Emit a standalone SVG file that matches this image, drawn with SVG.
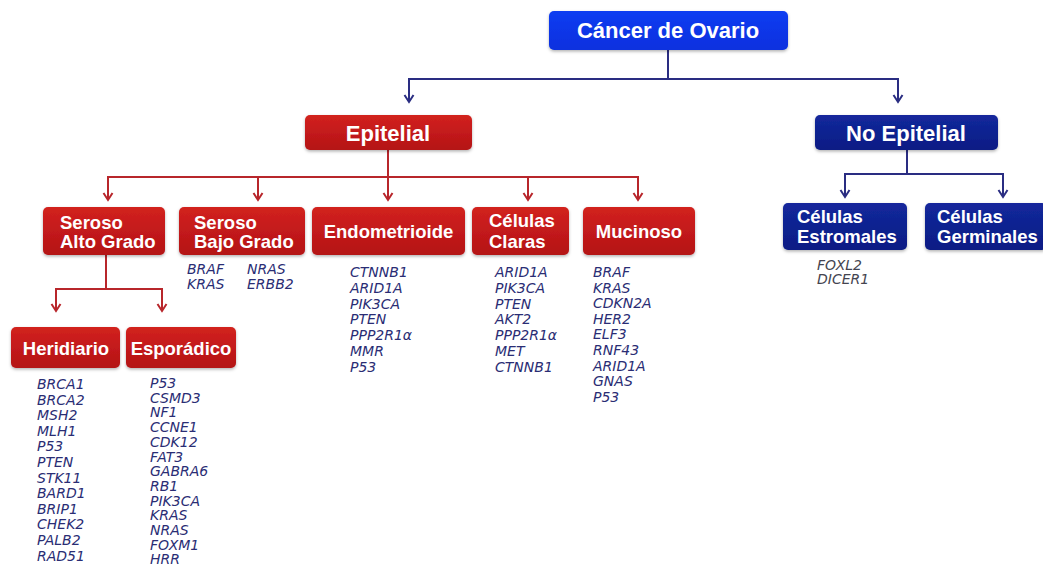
<svg xmlns="http://www.w3.org/2000/svg" width="1043" height="581" viewBox="0 0 1043 581">
<style>
.bt{font-family:"Liberation Sans",Arial,sans-serif;font-weight:bold;fill:#fff}
.t1{font-size:22px}
.t2{font-size:18.5px}
.g{font-family:"DejaVu Sans",Verdana,sans-serif;font-style:italic;font-size:14px;fill:#2a2d74}
.gg{fill:#444450}
.cb{fill:none;stroke:#2a2d82;stroke-width:2}
.cr{fill:none;stroke:#b8262b;stroke-width:2}
.red{fill:url(#gr)}
.navy{fill:url(#gn)}
</style>
<defs>
<linearGradient id="gr" x1="0" y1="0" x2="0" y2="1"><stop offset="0" stop-color="#d2221f"/><stop offset="1" stop-color="#b41216"/></linearGradient>
<linearGradient id="gn" x1="0" y1="0" x2="0" y2="1"><stop offset="0" stop-color="#13289c"/><stop offset="1" stop-color="#0b1c84"/></linearGradient>
<linearGradient id="gb" x1="0" y1="0" x2="0" y2="1"><stop offset="0" stop-color="#0e3df2"/><stop offset="1" stop-color="#0830de"/></linearGradient>
<filter id="sh" x="-10%" y="-20%" width="120%" height="150%"><feDropShadow dx="0" dy="1.5" stdDeviation="1.5" flood-color="#000" flood-opacity="0.3"/></filter>
<marker id="ab" viewBox="-9 -6 11 12" refX="0" refY="0" markerWidth="11" markerHeight="12" markerUnits="userSpaceOnUse" orient="auto"><path d="M-7,-4.5 L0,0 L-7,4.5" fill="none" stroke="#2a2d82" stroke-width="2"/></marker>
<marker id="ar" viewBox="-9 -6 11 12" refX="0" refY="0" markerWidth="11" markerHeight="12" markerUnits="userSpaceOnUse" orient="auto"><path d="M-7,-4.5 L0,0 L-7,4.5" fill="none" stroke="#b8262b" stroke-width="2"/></marker>
</defs>
<rect width="1043" height="581" fill="#fff"/>
<g id="connectors">
<path class="cb" d="M668,50 V79 H409 V102" marker-end="url(#ab)"/>
<path class="cb" d="M668,79 H898 V102" marker-end="url(#ab)"/>
<path class="cb" d="M907,150 V174 H845 V197" marker-end="url(#ab)"/>
<path class="cb" d="M907,174 H1003 V197" marker-end="url(#ab)"/>
<path class="cr" d="M388,150 V177 H108 V200" marker-end="url(#ar)"/>
<path class="cr" d="M258,177 V200" marker-end="url(#ar)"/>
<path class="cr" d="M388,177 V200" marker-end="url(#ar)"/>
<path class="cr" d="M388,177 H638 V200" marker-end="url(#ar)"/>
<path class="cr" d="M528,177 V200" marker-end="url(#ar)"/>
<path class="cr" d="M106,255 V289 H56 V311" marker-end="url(#ar)"/>
<path class="cr" d="M106,289 H162 V311" marker-end="url(#ar)"/>
</g>
<g id="n-cancer"><rect x="549" y="11" width="239" height="39" rx="5" fill="url(#gb)" filter="url(#sh)"/><text class="bt t1" x="668" y="37.5" text-anchor="middle">Cáncer de Ovario</text></g>
<g id="n-epitelial"><rect x="305" y="115" width="167" height="35" rx="5" class="red" filter="url(#sh)"/><text class="bt t1" x="388" y="140.5" text-anchor="middle">Epitelial</text></g>
<g id="n-noepitelial"><rect x="815" y="115" width="183" height="35" rx="5" class="navy" filter="url(#sh)"/><text class="bt t1" x="906" y="140.5" text-anchor="middle">No Epitelial</text></g>
<g id="n-seroso-alto"><rect x="43" y="207" width="122" height="48" rx="5" class="red" filter="url(#sh)"/><text class="bt t2" x="60" y="229">Seroso</text><text class="bt t2" x="60" y="248">Alto Grado</text></g>
<g id="n-seroso-bajo"><rect x="179" y="207" width="126" height="48" rx="5" class="red" filter="url(#sh)"/><text class="bt t2" x="194" y="229">Seroso</text><text class="bt t2" x="194" y="248">Bajo Grado</text>
<text class="g" x="187" y="274">BRAF</text><text class="g" x="187" y="289">KRAS</text><text class="g" x="247" y="274">NRAS</text><text class="g" x="247" y="289">ERBB2</text></g>
<g id="n-endometrioide"><rect x="312" y="207" width="153" height="48" rx="5" class="red" filter="url(#sh)"/><text class="bt t2" x="388.5" y="238" text-anchor="middle">Endometrioide</text>
<text class="g" x="350" y="277">CTNNB1</text><text class="g" x="350" y="292.8">ARID1A</text><text class="g" x="350" y="308.6">PIK3CA</text><text class="g" x="350" y="324.4">PTEN</text><text class="g" x="350" y="340.2">PPP2R1α</text><text class="g" x="350" y="356">MMR</text><text class="g" x="350" y="371.8">P53</text></g>
<g id="n-claras"><rect x="472" y="207" width="97" height="48" rx="5" class="red" filter="url(#sh)"/><text class="bt t2" x="489" y="227">Células</text><text class="bt t2" x="489" y="248">Claras</text>
<text class="g" x="495" y="277">ARID1A</text><text class="g" x="495" y="292.8">PIK3CA</text><text class="g" x="495" y="308.6">PTEN</text><text class="g" x="495" y="324.4">AKT2</text><text class="g" x="495" y="340.2">PPP2R1α</text><text class="g" x="495" y="356">MET</text><text class="g" x="495" y="371.8">CTNNB1</text></g>
<g id="n-mucinoso"><rect x="583" y="207" width="112" height="48" rx="5" class="red" filter="url(#sh)"/><text class="bt t2" x="639" y="238" text-anchor="middle">Mucinoso</text>
<text class="g" x="593" y="277">BRAF</text><text class="g" x="593" y="292.6">KRAS</text><text class="g" x="593" y="308.2">CDKN2A</text><text class="g" x="593" y="323.8">HER2</text><text class="g" x="593" y="339.4">ELF3</text><text class="g" x="593" y="355">RNF43</text><text class="g" x="593" y="370.6">ARID1A</text><text class="g" x="593" y="386.2">GNAS</text><text class="g" x="593" y="401.8">P53</text></g>
<g id="n-estromales"><rect x="783" y="203" width="124" height="47" rx="5" class="navy" filter="url(#sh)"/><text class="bt t2" x="797" y="223">Células</text><text class="bt t2" x="797" y="243">Estromales</text>
<text class="g gg" x="817" y="270">FOXL2</text><text class="g gg" x="817" y="284">DICER1</text></g>
<g id="n-germinales"><rect x="925" y="203" width="122" height="47" rx="5" class="navy" filter="url(#sh)"/><text class="bt t2" x="937" y="223">Células</text><text class="bt t2" x="937" y="243">Germinales</text></g>
<g id="n-heridiario"><rect x="11" y="327" width="109" height="41" rx="5" class="red" filter="url(#sh)"/><text class="bt t2" x="66" y="355" text-anchor="middle">Heridiario</text>
<text class="g" x="37" y="389">BRCA1</text><text class="g" x="37" y="404.6">BRCA2</text><text class="g" x="37" y="420.2">MSH2</text><text class="g" x="37" y="435.8">MLH1</text><text class="g" x="37" y="451.4">P53</text><text class="g" x="37" y="467">PTEN</text><text class="g" x="37" y="482.6">STK11</text><text class="g" x="37" y="498.2">BARD1</text><text class="g" x="37" y="513.8">BRIP1</text><text class="g" x="37" y="529.4">CHEK2</text><text class="g" x="37" y="545">PALB2</text><text class="g" x="37" y="560.6">RAD51</text></g>
<g id="n-esporadico"><rect x="126" y="327" width="110" height="41" rx="5" class="red" filter="url(#sh)"/><text class="bt t2" x="181" y="355" text-anchor="middle">Esporádico</text>
<text class="g" x="150" y="388">P53</text><text class="g" x="150" y="402.7">CSMD3</text><text class="g" x="150" y="417.4">NF1</text><text class="g" x="150" y="432.1">CCNE1</text><text class="g" x="150" y="446.8">CDK12</text><text class="g" x="150" y="461.5">FAT3</text><text class="g" x="150" y="476.2">GABRA6</text><text class="g" x="150" y="490.9">RB1</text><text class="g" x="150" y="505.6">PIK3CA</text><text class="g" x="150" y="520.3">KRAS</text><text class="g" x="150" y="535">NRAS</text><text class="g" x="150" y="549.7">FOXM1</text><text class="g" x="150" y="564.4">HRR</text></g>
</svg>
